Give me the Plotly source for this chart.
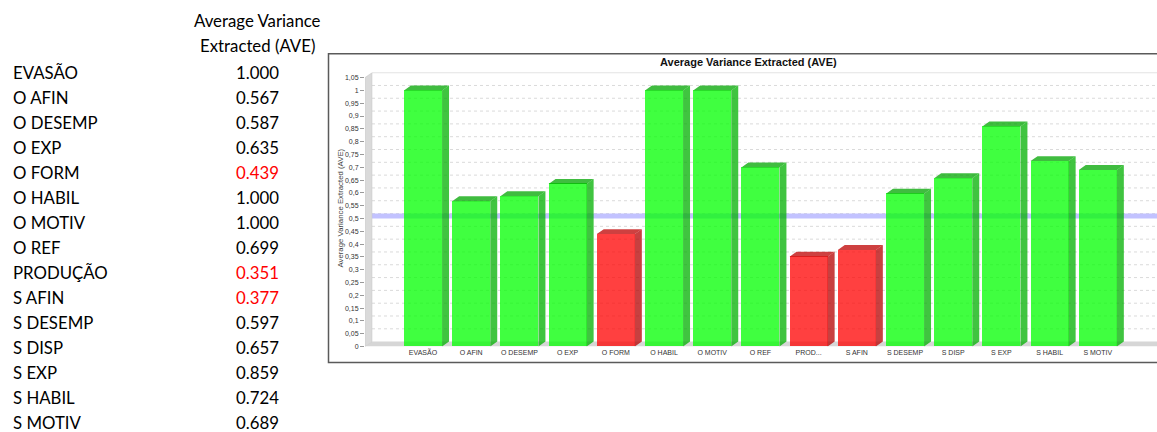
import plotly.graph_objects as go

# ---------------- data ----------------
table_labels = ["EVASÃO", "O AFIN", "O DESEMP", "O EXP", "O FORM", "O HABIL", "O MOTIV",
                "O REF", "PRODUÇÃO", "S AFIN", "S DESEMP", "S DISP", "S EXP", "S HABIL", "S MOTIV"]
axis_labels = ["EVASÃO", "O AFIN", "O DESEMP", "O EXP", "O FORM", "O HABIL", "O MOTIV",
               "O REF", "PROD...", "S AFIN", "S DESEMP", "S DISP", "S EXP", "S HABIL", "S MOTIV"]
ave_values = [1.000, 0.567, 0.587, 0.635, 0.439, 1.000, 1.000, 0.699, 0.351, 0.377,
              0.597, 0.657, 0.859, 0.724, 0.689]
threshold = 0.5
y_ticks = [0, 0.05, 0.1, 0.15, 0.2, 0.25, 0.3, 0.35, 0.4, 0.45, 0.5, 0.55, 0.6, 0.65,
           0.7, 0.75, 0.8, 0.85, 0.9, 0.95, 1, 1.05]
header = ["Average Variance", "Extracted (AVE)"]
chart_title = "Average Variance Extracted (AVE)"

# ---------------- geometry / style ----------------
W, H = 1157, 432
def px(x): return x / W
def py(y): return 1 - y / H

UNIT = 48.2            # px per category
X_ORIGIN = 423         # px of first category centre
X0 = (365 - X_ORIGIN) / UNIT
XMAX = (1157 - X_ORIGIN) / UNIT
Y_RANGE = [0, 1.07]
BW = 0.79
DX = 7 / UNIT
DY = 5 / 258.0

GREEN, GREEN_SIDE, GREEN_TOP = "rgba(0,255,0,0.75)", "rgba(0,176,0,0.75)", "rgba(0,166,0,0.75)"
RED, RED_SIDE, RED_TOP = "rgba(255,0,0,0.75)", "rgba(181,0,0,0.75)", "rgba(190,0,0,0.75)"
CHART_FONT = "Liberation Sans, Arial, sans-serif"
TABLE_FONT = "Lato, Open Sans, sans-serif"
TABLE_SIZE = 16.8

fig = go.Figure()

# 3D side and top faces
groups = {"g": ([], [], [], []), "r": ([], [], [], [])}
for i, v in enumerate(ave_values):
    key = "r" if v < threshold else "g"
    sx, sy, tx, ty = groups[key]
    h = BW / 2
    sx += [i + h, i + h + DX, i + h + DX, i + h, i + h, None]
    sy += [0, DY, v + DY, v, 0, None]
    tx += [i - h, i - h + DX, i + h + DX, i + h, i - h, None]
    ty += [v, v + DY, v + DY, v, v, None]

for key, side_c, top_c in [("g", GREEN_SIDE, GREEN_TOP), ("r", RED_SIDE, RED_TOP)]:
    sx, sy, tx, ty = groups[key]
    fig.add_trace(go.Scatter(x=sx, y=sy, mode="lines", fill="toself", fillcolor=side_c,
                             line=dict(width=0, color="rgba(0,0,0,0)"), hoverinfo="skip", showlegend=False))
    fig.add_trace(go.Scatter(x=tx, y=ty, mode="lines", fill="toself", fillcolor=top_c,
                             line=dict(width=0, color="rgba(0,0,0,0)"), hoverinfo="skip", showlegend=False))

# front faces
fig.add_trace(go.Bar(
    x=list(range(len(ave_values))), y=ave_values, width=BW,
    marker=dict(color=[RED if v < threshold else GREEN for v in ave_values], line=dict(width=0)),
    showlegend=False, hovertemplate="%{text}: %{y:.3f}<extra></extra>", text=table_labels,
    textposition="none",
))

shapes = []
# gridlines on back wall
for v in y_ticks[1:-1]:
    shapes.append(dict(type="line", xref="x", yref="y", x0=X0 + DX, x1=XMAX, y0=v + DY, y1=v + DY,
                       line=dict(color="#dadada", width=1, dash="dot"), layer="below"))
shapes.append(dict(type="line", xref="x", yref="y", x0=X0 + DX, x1=XMAX,
                   y0=y_ticks[-1] + DY, y1=y_ticks[-1] + DY,
                   line=dict(color="#cfcfcf", width=1), layer="below"))
# threshold band (behind translucent bars)
shapes.append(dict(type="line", xref="x", yref="y", x0=X0 + DX, x1=XMAX, y0=0.51, y1=0.51,
                   line=dict(color="#c2c2ff", width=5), layer="below"))
# floor
shapes.append(dict(type="path", xref="x", yref="y",
                   path=f"M {X0},0 L {XMAX},0 L {XMAX},{DY} L {X0+DX},{DY} Z",
                   fillcolor="#d6d6d6", line=dict(width=0), layer="below"))
# left wall
shapes.append(dict(type="path", xref="x", yref="y",
                   path=f"M {X0},0 L {X0+DX},{DY} L {X0+DX},{y_ticks[-1]+DY} L {X0},{y_ticks[-1]} Z",
                   fillcolor="#dadada", line=dict(color="#c4c4c4", width=0.5), layer="below"))
# chart box
shapes.append(dict(type="rect", xref="paper", yref="paper", x0=px(328.5), x1=px(1165),
                   y0=py(365), y1=py(54), line=dict(color="#5a5a5a", width=1.5)))

annotations = []
annotations.append(dict(text=f"<b>{chart_title}</b>", x=px(748), y=py(62), xref="paper", yref="paper",
                        showarrow=False, xanchor="center", yanchor="middle",
                        font=dict(family=CHART_FONT, size=11, color="#111")))
annotations.append(dict(text="Average Variance Extracted (AVE)", x=px(341), y=py(210), xref="paper",
                        yref="paper", showarrow=False, textangle=-90, xanchor="center", yanchor="middle",
                        font=dict(family=CHART_FONT, size=7.8, color="#444")))
# table
for k, t in enumerate(header):
    annotations.append(dict(text=t, x=px(257.5), y=py(20.5 + 25.5 * k), xref="paper", yref="paper",
                            showarrow=False, xanchor="center", yanchor="middle",
                            font=dict(family=TABLE_FONT, size=TABLE_SIZE, color="#000")))
for k, (lab, v) in enumerate(zip(table_labels, ave_values)):
    yc = py(73 + 25.14 * k)
    annotations.append(dict(text=lab, x=px(11), y=yc, xref="paper", yref="paper", showarrow=False,
                            xanchor="left", yanchor="middle",
                            font=dict(family=TABLE_FONT, size=TABLE_SIZE, color="#000")))
    annotations.append(dict(text=f"{v:.3f}", x=px(257.5), y=yc, xref="paper", yref="paper",
                            showarrow=False, xanchor="center", yanchor="middle",
                            font=dict(family=TABLE_FONT, size=TABLE_SIZE,
                                      color="#ff0000" if v < threshold else "#000")))

fig.update_layout(
    width=W, height=H, margin=dict(l=0, r=0, t=0, b=0),
    paper_bgcolor="white", plot_bgcolor="rgba(0,0,0,0)",
    bargap=0, shapes=shapes, annotations=annotations, showlegend=False,
    xaxis=dict(domain=[px(365), 1.0], range=[X0, XMAX], tickmode="array",
               tickvals=list(range(len(axis_labels))), ticktext=axis_labels,
               showgrid=False, zeroline=False, showline=False, ticks="",
               tickfont=dict(family=CHART_FONT, size=7, color="#333")),
    yaxis=dict(domain=[py(349), py(73)], range=Y_RANGE, tickmode="array",
               tickvals=y_ticks, ticktext=[f"{v:g}".replace(".", ",") for v in y_ticks],
               showgrid=False, zeroline=False, showline=False, ticks="outside", ticklen=4,
               tickcolor="#999", tickfont=dict(family=CHART_FONT, size=7, color="#333")),
)

fig.write_html("out.html")
